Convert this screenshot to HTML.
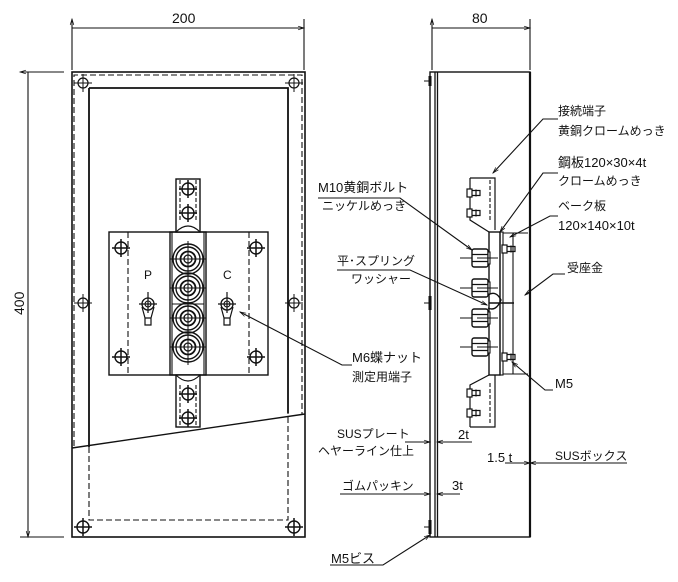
<!DOCTYPE html>
<html><head><meta charset="utf-8"><style>
html,body{margin:0;padding:0;background:#fff;}
svg{display:block;}
text{font-family:"Liberation Sans","Noto Sans CJK JP",sans-serif;font-size:12px;fill:#111;}
</style></head><body>
<svg width="678" height="582" viewBox="0 0 678 582" xmlns="http://www.w3.org/2000/svg">
<defs>
<marker id="a" viewBox="0 0 10 10" refX="10" refY="5" markerWidth="9" markerHeight="6" orient="auto-start-reverse" markerUnits="userSpaceOnUse"><path d="M0,2 L10,5 L0,8" fill="none" stroke="#111" stroke-width="1.2"/></marker>
<g id="scr"><circle r="5" fill="none" stroke="#111" stroke-width="1.2"/><path d="M-9,0H9M0,-9V9" stroke="#111" stroke-width="1"/></g>
<g id="scrb"><circle r="6" fill="none" stroke="#111" stroke-width="1.4"/><path d="M-9,0H9M0,-9V9" stroke="#111" stroke-width="1.5"/></g>
<g id="nut"><circle r="15" fill="none" stroke="#111" stroke-width="1.4"/><circle r="12" fill="none" stroke="#111" stroke-width="1.4"/><circle r="7.5" fill="none" stroke="#111" stroke-width="1.8"/><circle r="4" fill="none" stroke="#111" stroke-width="1.3"/><path d="M-18,0H18M0,-18V18" stroke="#111" stroke-width="1"/></g>
<g id="wing"><circle r="6" fill="none" stroke="#111" stroke-width="1.3"/><circle r="3" fill="none" stroke="#111"/><path d="M-9,0H9M0,-12V9M-6,3L-3,14M6,3L3,14M-3,14H3V21H-3Z" stroke="#111" fill="none" stroke-width="1.2"/></g>
<g id="hexb"><path d="M-12,0H26" stroke="#111"/><rect x="0" y="-9" width="16" height="18" rx="2" fill="#fff" stroke="#111" stroke-width="1.4"/><path d="M0,-3.5H16M0,3.5H16" stroke="#111" stroke-width="1.2"/><rect x="16" y="-6" width="2" height="12" fill="#fff" stroke="#111"/><path d="M5,0H26" stroke="#111"/></g>
<g id="sb"><rect x="-3" y="-4" width="5" height="8" fill="#fff" stroke="#111" stroke-width="1.2"/><path d="M2,-2.5H10V2.5H2M6,-3.5V3.5" stroke="#111" fill="none" stroke-width="1.2"/></g>
</defs>
<g stroke="#111" fill="none" stroke-width="1.1">
<path d="M72,19V70M304,19V70M72,28H304" marker-start="url(#a)" marker-end="url(#a)"/>
<path d="M432,19V70M530,19V70M432,28H530" marker-start="url(#a)" marker-end="url(#a)"/>
<path d="M20,72H64M20,537H64M28,72V537" marker-start="url(#a)" marker-end="url(#a)"/>
<rect x="72" y="72" width="233" height="465" stroke-width="1.6"/>
<path d="M89,88H288V413M89,88V447" stroke-width="1.8"/>
<path d="M74,446V75H302V414M89,447V520H288V413" stroke-dasharray="6,3"/>
<path d="M72,448L305,414" stroke-width="1.4"/>
<use href="#scr" x="83" y="83"/><use href="#scr" x="294" y="83"/>
<use href="#scr" x="83" y="303"/><use href="#scr" x="294" y="303"/>
<use href="#scrb" x="83" y="527"/><use href="#scrb" x="294" y="527"/>
<rect x="109" y="232" width="159" height="143" stroke-width="1.4"/>
<path d="M128,232V375M249,232V375" stroke-dasharray="6,3"/>
<use href="#scrb" x="121" y="248"/><use href="#scrb" x="256" y="248"/>
<use href="#scrb" x="121" y="357"/><use href="#scrb" x="256" y="357"/>
<rect x="170" y="232" width="36" height="143" stroke-width="1.4"/>
<path d="M172,232V375M204,232V375M172,304H204"/>
<rect x="176" y="179" width="24" height="53" fill="#fff" stroke-width="1.4"/>
<path d="M180,180V222M196,180V222" stroke-dasharray="4,2"/>
<path d="M176,232Q188,220 200,232"/>
<use href="#scrb" x="188" y="189"/><use href="#scrb" x="188" y="213"/>
<rect x="176" y="375" width="24" height="52" fill="#fff" stroke-width="1.4"/>
<path d="M180,385V426M196,385V426" stroke-dasharray="4,2"/>
<path d="M176,375Q188,387 200,375"/>
<use href="#scrb" x="188" y="394"/><use href="#scrb" x="188" y="418"/>
<use href="#nut" x="188" y="259"/><use href="#nut" x="188" y="288"/>
<use href="#nut" x="188" y="318"/><use href="#nut" x="188" y="347"/>
<use href="#wing" x="148" y="304"/><use href="#wing" x="227" y="304"/>
<rect x="430" y="72" width="100" height="465" stroke-width="1.4"/>
<path d="M435,72V537M437.5,72V537" stroke-width="1.3"/>
<path d="M530,72V537" stroke-width="2.2"/>
<path d="M430,76V86M430,296V310M430,520V534" stroke-width="3"/>
<path d="M424,81H430M424,303H430M424,527H430"/>
<path d="M470,178H495V230M470,178V220L489,232" stroke-width="1.2"/>
<path d="M490,180V222" stroke-dasharray="4,2"/>
<path d="M470,427H495V375M470,427V385L489,375" stroke-width="1.2"/>
<path d="M490,383V425" stroke-dasharray="4,2"/>
<use href="#sb" x="470" y="193"/><use href="#sb" x="470" y="213"/>
<use href="#sb" x="470" y="393"/><use href="#sb" x="470" y="413"/>
<rect x="489" y="232" width="11" height="143" fill="#fff" stroke-width="1.4"/>
<rect x="500" y="232" width="3" height="143"/>
<path d="M503,233H528M503,374H528M513,233V374"/>
<use href="#hexb" x="472" y="258"/><use href="#hexb" x="472" y="288"/>
<use href="#hexb" x="472" y="318"/><use href="#hexb" x="472" y="347"/>
<path d="M489,303H514M488,295Q496,290 501,300Q496,312 488,308" stroke-width="1.4"/>
<use href="#sb" x="505" y="249"/><use href="#sb" x="505" y="357"/>
<path d="M558,119H543L493,173" marker-end="url(#a)"/>
<path d="M558,173H543L500,232" marker-end="url(#a)"/>
<path d="M558,216H550L510,237" marker-end="url(#a)"/>
<path d="M565,274H553L525,295" marker-end="url(#a)"/>
<path d="M318,198H400L472,250" marker-end="url(#a)"/>
<path d="M337,270H410L487,305" marker-end="url(#a)"/>
<path d="M352,365H342L240,312" marker-end="url(#a)"/>
<path d="M553,390H545L512,362" marker-end="url(#a)"/>
<path d="M405,442H430" marker-end="url(#a)"/><path d="M472,442H437" marker-end="url(#a)"/>
<path d="M505,463H530" marker-end="url(#a)"/><path d="M627,463H530" marker-end="url(#a)"/>
<path d="M340,494H430" marker-end="url(#a)"/><path d="M460,494H437" marker-end="url(#a)"/>
<path d="M330,565H383L430,535" marker-end="url(#a)"/>
</g>
<text x="172" y="23" style="font-size:14px">200</text>
<text x="472" y="23" style="font-size:14px">80</text>
<text x="0" y="0" transform="translate(24,315) rotate(-90)" style="font-size:14px">400</text>
<text x="144" y="279">P</text>
<text x="223" y="279">C</text>
<text x="558" y="115">接続端子</text>
<text x="558" y="135">黄銅クロームめっき</text>
<text x="558" y="167" style="font-size:13px">鋼板120×30×4t</text>
<text x="558" y="185">クロームめっき</text>
<text x="558" y="210">ベーク板</text>
<text x="558" y="230" style="font-size:13px">120×140×10t</text>
<text x="567" y="272">受座金</text>
<text x="318" y="192" style="font-size:13px">M10黄銅ボルト</text>
<text x="322" y="210">ニッケルめっき</text>
<text x="337" y="265">平･スプリング</text>
<text x="351" y="283">ワッシャー</text>
<text x="352" y="362" style="font-size:13px">M6蝶ナット</text>
<text x="352" y="381">測定用端子</text>
<text x="555" y="388" style="font-size:13px">M5</text>
<text x="337" y="438">SUSプレート</text>
<text x="318" y="455">ヘヤーライン仕上</text>
<text x="458" y="439" style="font-size:13px">2t</text>
<text x="487" y="462" style="font-size:13px">1.5 t</text>
<text x="555" y="460">SUSボックス</text>
<text x="342" y="490">ゴムパッキン</text>
<text x="452" y="490" style="font-size:13px">3t</text>
<text x="331" y="563" style="font-size:13px">M5ビス</text>
</svg>
</body></html>
